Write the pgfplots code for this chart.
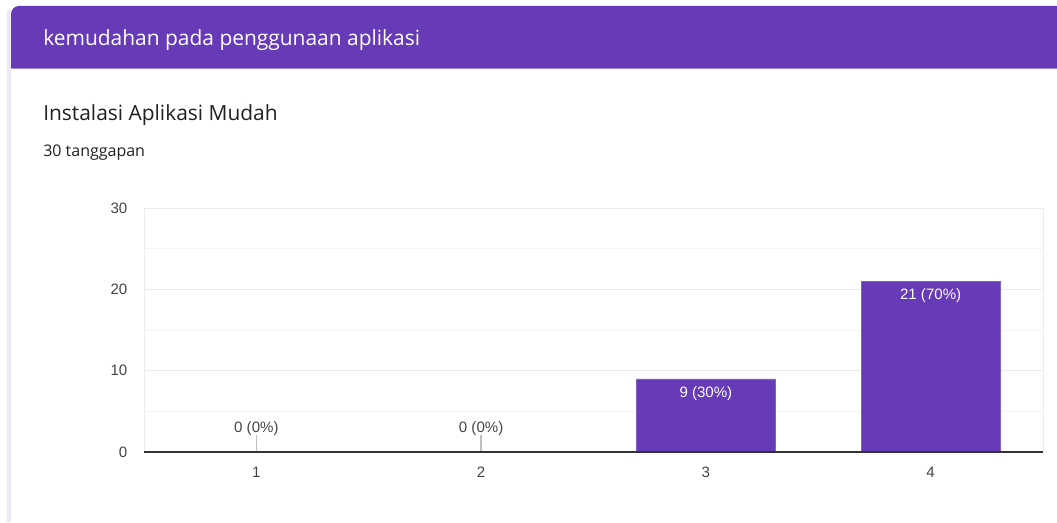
\documentclass[border=0pt]{standalone}
\usepackage{pgfplots}
\pgfplotsset{compat=1.18}
\usepackage{fontspec}
\setmainfont{Liberation Sans}
\newfontfamily\titlefont{Open Sans}
\definecolor{gpurple}{HTML}{673AB7}
\definecolor{strip}{HTML}{ECE8F4}
\definecolor{gridc}{HTML}{EBEBEB}
\definecolor{minorc}{HTML}{F4F4F4}
\definecolor{tickc}{HTML}{444444}
\definecolor{txt}{HTML}{202124}
\begin{document}
\begin{tikzpicture}[x=0.75pt,y=0.75pt]
\path[use as bounding box] (0,0) rectangle (1057,522);
\fill[white] (0,0) rectangle (1057,522);
\fill[strip] (7,0) rectangle (11,512);
\fill[gpurple] (11,454) -- (11,508) arc[start angle=180,end angle=90,radius=8] -- (1057,516) -- (1057,454) -- cycle;
\draw[gpurple!60,line width=0.75pt] (11,453.7) -- (1057,453.7);
\node[anchor=base west,inner sep=0pt,text=white,font=\titlefont\fontsize{15.7pt}{18pt}\selectfont] at (43,476) {kemudahan pada penggunaan aplikasi};
\node[anchor=base west,inner sep=0pt,text=txt,font=\titlefont\fontsize{15.7pt}{18pt}\selectfont] at (43,401) {Instalasi Aplikasi Mudah};
\node[anchor=base west,inner sep=0pt,text=txt,font=\titlefont\fontsize{12pt}{14pt}\selectfont] at (43,365) {30 tanggapan};
\begin{axis}[
  at={(108pt,52.5pt)}, anchor=south west,
  scale only axis, width=674.25pt, height=183pt,
  xmin=0.5, xmax=4.5, ymin=0, ymax=30,
  xtick={1,2,3,4}, xticklabels={1,2,3,4},
  ytick={10,20,30}, minor ytick={5,15,25},
  extra y ticks={0},
  extra y tick style={grid=major, major grid style={draw=black!80, line width=1pt}},
  ymajorgrids, yminorgrids,
  major grid style={draw=gridc, line width=0.75pt},
  minor grid style={draw=minorc, line width=0.75pt},
  major tick length=0pt, minor tick length=0pt,
  axis line style={draw=gridc, line width=0.75pt},
  tick label style={font=\fontsize{11.3pt}{13pt}\selectfont, text=tickc},
  /pgf/number format/assume math mode=true,
  yticklabel style={xshift=-9pt},
  xticklabel style={yshift=-8pt},
  ybar, bar width=104pt, bar shift=0pt,
  clip=false,
]
\addplot[fill=gpurple, draw=gpurple!80,
  point meta=explicit symbolic,
  nodes near coords,
  nodes near coords style={anchor=north, yshift=-2pt, text=white, font=\fontsize{11.3pt}{13pt}\selectfont},
] coordinates {(3,9) [9 (30\%)] (4,21) [21 (70\%)]};
\addplot[draw=none, fill=none,
  point meta=explicit symbolic,
  nodes near coords,
  nodes near coords style={anchor=south, yshift=9pt, text=tickc, font=\fontsize{11.3pt}{13pt}\selectfont},
] coordinates {(1,0) [0 (0\%)] (2,0) [0 (0\%)]};
\draw[black!25, line width=1pt] (axis cs:1,0) -- (axis cs:1,2.1);
\draw[black!25, line width=1pt] (axis cs:2,0) -- (axis cs:2,2.1);
\draw[black!80, line width=1pt] (axis cs:0.5,0) -- (axis cs:4.5,0);
\end{axis}
\end{tikzpicture}
\end{document}
